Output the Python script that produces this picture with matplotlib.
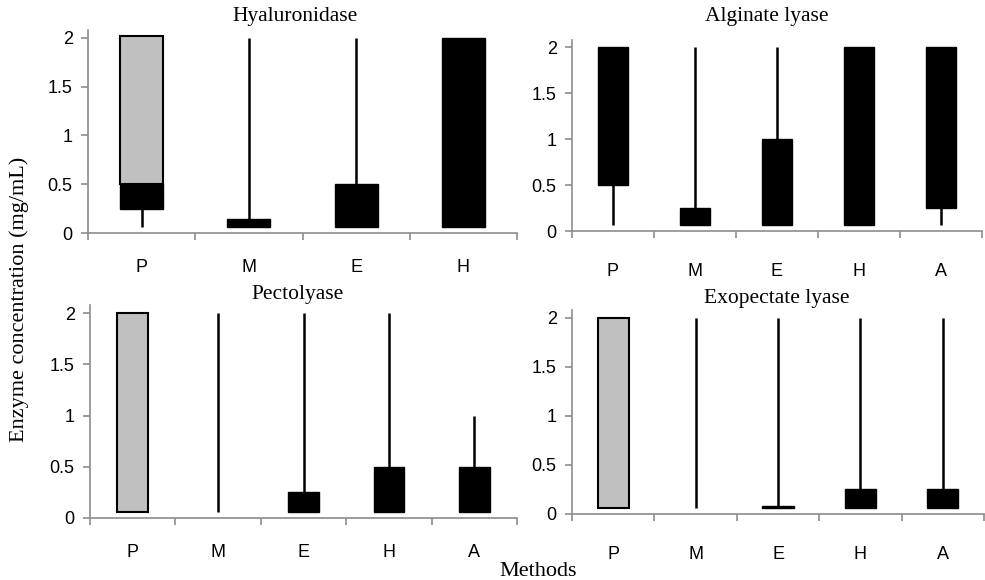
import numpy as np
import matplotlib
matplotlib.use("Agg")
import matplotlib.pyplot as plt
from matplotlib.ticker import FixedLocator

nan = np.nan

titles = ["Hyaluronidase", "Alginate lyase", "Pectolyase", "Exopectate lyase"]
cats = [["P", "M", "E", "H"],
        ["P", "M", "E", "H", "A"],
        ["P", "M", "E", "H", "A"],
        ["P", "M", "E", "H", "A"]]

# whisker range (min, max)
whisk_lo = [[0.0625, 0.0625, 0.0625, 0.0625],
            [0.0625, 0.0625, 0.0625, 0.0625, 0.0625],
            [0.0625, 0.0625, 0.0625, 0.0625, 0.0625],
            [0.0625, 0.0625, 0.0625, 0.0625, 0.0625]]
whisk_hi = [[2, 2, 2, 2],
            [2, 2, 2, 2, 2],
            [2, 2, 2, 2, 1],
            [2, 2, 2, 2, 2]]
# black box
black_lo = [[0.25, 0.0625, 0.0625, 0.0625],
            [0.5, 0.0625, 0.0625, 0.0625, 0.25],
            [nan, nan, 0.0625, 0.0625, 0.0625],
            [nan, nan, 0.0625, 0.0625, 0.0625]]
black_hi = [[0.5, 0.14, 0.5, 2],
            [2, 0.25, 1, 2, 2],
            [nan, nan, 0.25, 0.5, 0.5],
            [nan, nan, 0.085, 0.25, 0.25]]
# grey box
grey_lo = [[0.5, nan, nan, nan],
           [nan, nan, nan, nan, nan],
           [0.0625, nan, nan, nan, nan],
           [0.0625, nan, nan, nan, nan]]
grey_hi = [[2.02, nan, nan, nan],
           [nan, nan, nan, nan, nan],
           [2, nan, nan, nan, nan],
           [2, nan, nan, nan, nan]]

yticks = [0, 0.5, 1, 1.5, 2]
ytick_labels = ["0", "0.5", "1", "1.5", "2"]

W, H = 985, 580
fig = plt.figure(figsize=(W / 100, H / 100), dpi=100)

# pixel boxes: left, right, bottom(y of 0), top(y of axis top)
boxes = [(88, 517, 233, 30), (572, 982, 231, 40), (90, 517, 518, 305), (572, 984, 514, 310)]
widths = [0.40, 0.36, 0.36, 0.38]
label_pad = [19, 23, 19, 23]
title_pos = [(295, 16), (767, 16), (298, 294), (777, 298)]

sans = "Liberation Sans"
serif = "Liberation Serif"
axcol = "#8c8c8c"

for k in range(4):
    l, r, b, t = boxes[k]
    ax = fig.add_axes([l / W, 1 - b / H, (r - l) / W, (b - t) / H])
    n = len(cats[k])
    x = np.arange(n) + 0.5
    ax.vlines(x, whisk_lo[k], whisk_hi[k], color="black", lw=1.8, zorder=2)
    blo = np.array(black_lo[k], float); bhi = np.array(black_hi[k], float)
    m = ~np.isnan(blo)
    ax.bar(x[m], bhi[m] - blo[m], bottom=blo[m], width=widths[k],
           color="black", edgecolor="black", lw=1.0, zorder=3)
    glo = np.array(grey_lo[k], float); ghi = np.array(grey_hi[k], float)
    m = ~np.isnan(glo)
    ax.bar(x[m], ghi[m] - glo[m], bottom=glo[m], width=widths[k],
           color="#c0c0c0", edgecolor="black", lw=1.5, zorder=3)
    ax.set_xlim(0, n)
    ax.set_ylim(0, 2.08)
    ax.set_yticks(yticks)
    ax.set_yticklabels(ytick_labels, fontfamily=sans, fontsize=13)
    ax.set_xticks(x)
    ax.set_xticklabels(cats[k], fontfamily=sans, fontsize=13)
    ax.xaxis.set_minor_locator(FixedLocator(np.arange(n + 1)))
    ax.tick_params(axis="x", which="major", length=0, pad=label_pad[k])
    ax.tick_params(axis="x", which="minor", length=5, width=1.2, color=axcol, direction="out")
    ax.tick_params(axis="y", length=5, width=1.2, color=axcol, direction="out", pad=6)
    for s in ["top", "right"]:
        ax.spines[s].set_visible(False)
    for s in ["left", "bottom"]:
        ax.spines[s].set_color(axcol)
        ax.spines[s].set_linewidth(1.2)
    tx, ty = title_pos[k]
    fig.text(tx / W, 1 - ty / H, titles[k], ha="center", va="center",
             fontfamily=serif, fontsize=15.5)

fig.text(19 / W, 1 - 299 / H, "Enzyme concentration (mg/mL)", rotation=90,
         ha="center", va="center", fontfamily=serif, fontsize=16)
fig.text(538 / W, 1 - 572 / H, "Methods", ha="center", va="center",
         fontfamily=serif, fontsize=16)

fig.savefig("out.png", dpi=100)
